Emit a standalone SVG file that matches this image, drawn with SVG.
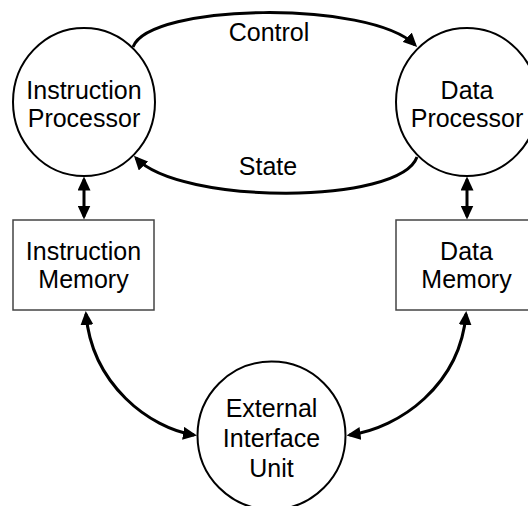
<svg xmlns="http://www.w3.org/2000/svg" width="528" height="506" viewBox="0 0 528 506">
  <style>
    .proc { fill: #ffffff; stroke: #000000; stroke-width: 2; }
    .mem { fill: #ffffff; stroke: #444444; stroke-width: 1.5; }
    .label { font-family: "Liberation Sans", Arial, sans-serif; font-size: 25px; fill: #000000; text-anchor: middle; }
    .link { fill: none; stroke: #000000; stroke-width: 3; stroke-linecap: butt; }
  </style>
  <defs>
    <marker id="head" viewBox="0 0 14 13" refX="11" refY="6.5" markerWidth="14" markerHeight="13" markerUnits="userSpaceOnUse" orient="auto-start-reverse">
      <path d="M0,0 L14,6.5 L0,13 z" fill="#000000"/>
    </marker>
  </defs>

  <rect x="0" y="0" width="528" height="506" fill="#ffffff"/>

  <g id="connectors">
    <!-- Control: instruction processor to data processor -->
    <path class="link" d="M133,47 C150,3 370,0 415,45" marker-end="url(#head)"/>
    <!-- State: data processor back to instruction processor -->
    <path class="link" d="M417,157 C400,205 180,205 136,158" marker-end="url(#head)"/>
    <!-- processor / memory links -->
    <path class="link" d="M84,179.5 L84,216.5" marker-start="url(#head)" marker-end="url(#head)"/>
    <path class="link" d="M467,179.5 L467,216.5" marker-start="url(#head)" marker-end="url(#head)"/>
    <!-- memory / external interface links -->
    <path class="link" d="M86,314 C92,385 150,428 194,435" marker-start="url(#head)" marker-end="url(#head)"/>
    <path class="link" d="M466,314 C460,385 400,428 349.5,435" marker-start="url(#head)" marker-end="url(#head)"/>
  </g>

  <g id="instruction-processor">
    <ellipse class="proc" cx="84" cy="102" rx="71" ry="74"/>
    <text class="label" x="84" y="99">Instruction</text>
    <text class="label" x="84" y="127">Processor</text>
  </g>

  <g id="data-processor">
    <ellipse class="proc" cx="467" cy="102" rx="71" ry="74"/>
    <text class="label" x="467" y="99">Data</text>
    <text class="label" x="467" y="127">Processor</text>
  </g>

  <g id="instruction-memory">
    <rect class="mem" x="13" y="220" width="141" height="90"/>
    <text class="label" x="83.5" y="260">Instruction</text>
    <text class="label" x="83.5" y="288">Memory</text>
  </g>

  <g id="data-memory">
    <rect class="mem" x="396" y="220" width="141" height="90"/>
    <text class="label" x="466.5" y="260">Data</text>
    <text class="label" x="466.5" y="288">Memory</text>
  </g>

  <g id="external-interface-unit">
    <circle class="proc" cx="271.5" cy="435.5" r="74"/>
    <text class="label" x="271.5" y="417">External</text>
    <text class="label" x="271.5" y="447">Interface</text>
    <text class="label" x="271.5" y="477">Unit</text>
  </g>

  <g id="connector-labels">
    <text class="label" x="269" y="41">Control</text>
    <text class="label" x="268" y="175">State</text>
  </g>
</svg>
